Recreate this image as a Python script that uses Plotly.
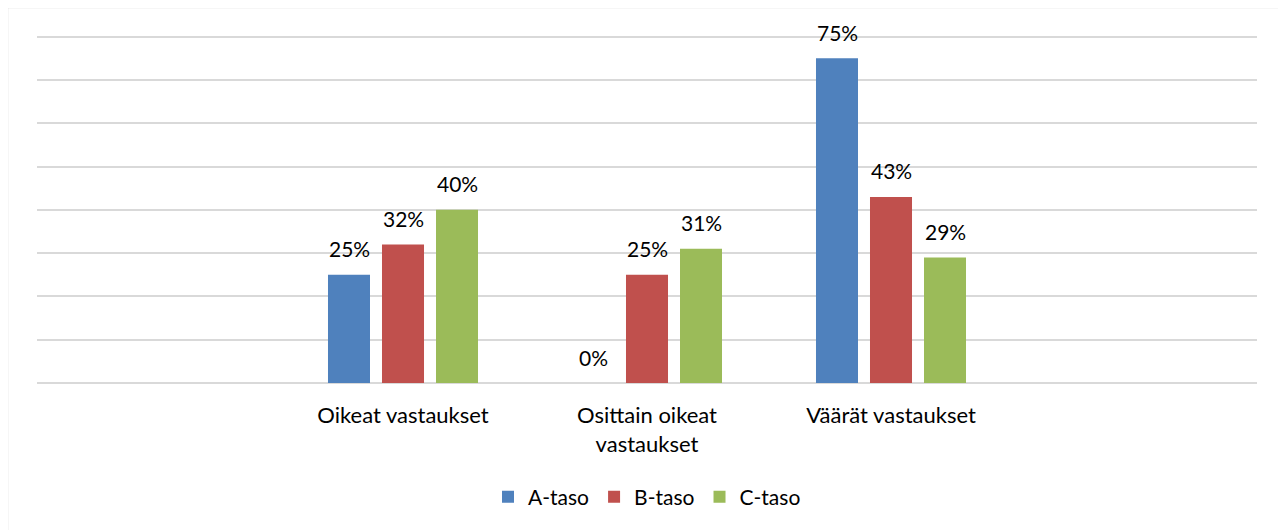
import plotly.graph_objects as go

categories = ["Oikeat vastaukset", "Osittain oikeat<br>vastaukset", "Väärät vastaukset"]
cat_positions = [1, 2, 3]
series_names = ["A-taso", "B-taso", "C-taso"]
a_values = [0.25, 0.00, 0.75]
b_values = [0.32, 0.25, 0.43]
c_values = [0.40, 0.31, 0.29]
colors = ["#4F81BD", "#C0504D", "#9BBB59"]

FONT = "Lato, Carlito, Calibri, 'Open Sans', sans-serif"
FS = 21

fig = go.Figure()
annotations = []
series = [a_values, b_values, c_values]
for i, (name, vals, col) in enumerate(zip(series_names, series, colors)):
    fig.add_trace(go.Bar(
        x=cat_positions, y=vals, name=name,
        marker=dict(color=col, line=dict(width=0)),
    ))
    for xc, v in zip(cat_positions, vals):
        annotations.append(dict(
            x=xc, y=v, xref="x", yref="y", text=f"{round(v*100)}%",
            showarrow=False, xanchor="center", yanchor="middle",
            xshift=(i - 1) * 54, yshift=26,
            font=dict(size=FS, color="#000000", family=FONT),
        ))

PH = 522 - 27 - 147  # plot height in px
# page body has an 8px margin; figure is 1278x522 so the plot lands at the same pixels
fig.update_layout(
    width=1278, height=522,
    margin=dict(l=29, r=29, t=27, b=147, autoexpand=False),
    paper_bgcolor="white", plot_bgcolor="white",
    barmode="group", bargap=0.336, bargroupgap=0.222,
    font=dict(family=FONT, size=FS, color="#000000"),
    showlegend=True,
    legend=dict(orientation="h", x=0.5, xanchor="center", y=-114 / PH, yanchor="middle",
                font=dict(size=FS, color="#000000", family=FONT),
                itemwidth=30, traceorder="normal"),
    xaxis=dict(range=[-0.5, 4.5], tickmode="array", tickvals=cat_positions,
               ticktext=categories, showgrid=False, zeroline=False, showline=False,
               ticks="", ticklabelstandoff=17, automargin=False,
               tickfont=dict(size=22, color="#000000", family=FONT)),
    yaxis=dict(range=[0, 0.804], tickmode="array",
               tickvals=[0.1, 0.2, 0.3, 0.4, 0.5, 0.6, 0.7, 0.8],
               showticklabels=False, showgrid=True,
               gridcolor="#D9D9D9", gridwidth=1.5, zeroline=True,
               zerolinecolor="#D9D9D9", zerolinewidth=1.5, ticks=""),
    annotations=annotations,
    shapes=[dict(type="rect", xref="paper", yref="paper",
                 x0=(7.5 - 37) / 1220, x1=(1300 - 37) / 1220,
                 y0=(383 - 545) / PH, y1=(383 - 7.5) / PH,
                 line=dict(color="#D9D9D9", width=1.5), fillcolor="rgba(0,0,0,0)",
                 layer="below")],
)

fig.write_html("out.html")
